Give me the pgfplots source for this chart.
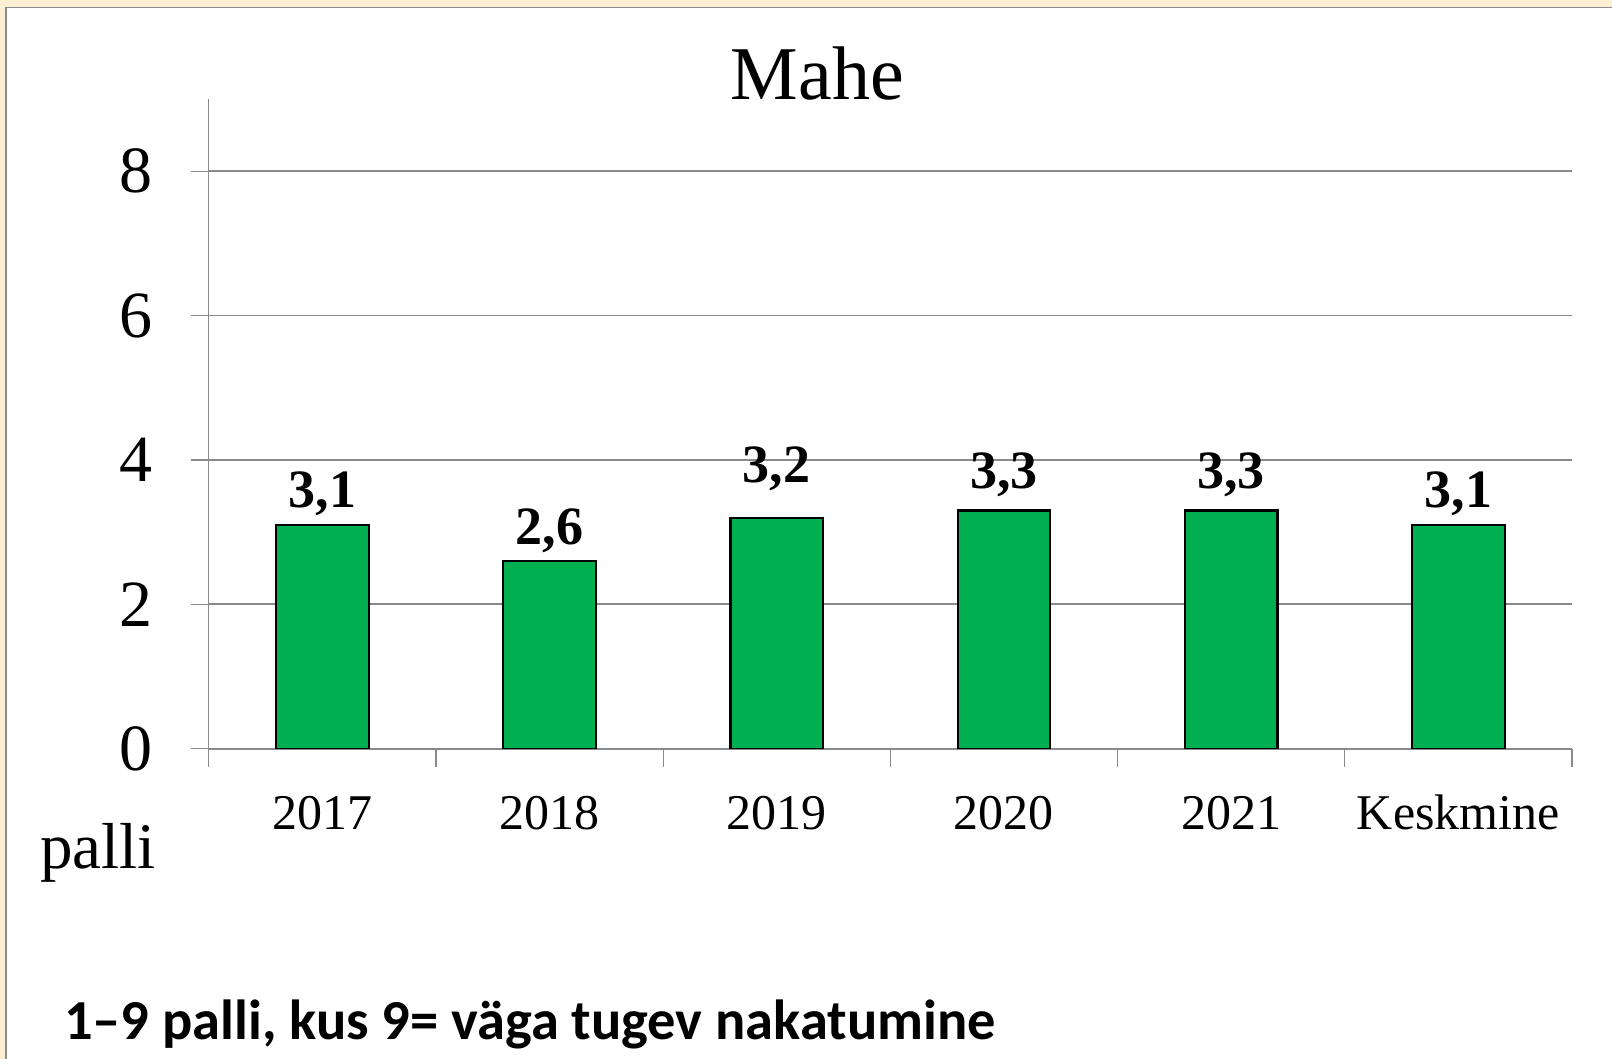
\documentclass[border=0pt]{standalone}
\usepackage{fontspec}
\setmainfont{Liberation Serif}
\newfontfamily\calib{Carlito}
\usepackage{pgfplots}
\pgfplotsset{compat=1.18}
\usepackage{pgfplotstable}
\definecolor{barg}{HTML}{00B050}
\definecolor{cream}{HTML}{FDF0D2}
\definecolor{gridg}{HTML}{8A8A8A}

\pgfplotstableread{
x y off
0 3.1 17
1 2.6 17
2 3.2 35
3 3.3 22
4 3.3 22
5 3.1 17
}\datatable

\begin{document}
\begin{tikzpicture}[x=1pt,y=1pt]
\useasboundingbox (0,0) rectangle (1612,1059);
\fill[cream] (0,0) rectangle (1612,1059);
\fill[white] (6,0) rectangle (1612,1051.5);
\draw[gridg, line width=1.2pt] (6,0) -- (6,1051.5) -- (1612,1051.5);
\begin{axis}[
  at={(208.7pt,310.3pt)}, anchor=south west,
  width=1363.3pt, height=649.7pt, scale only axis,
  xmin=-0.5, xmax=5.5, ymin=0, ymax=9,
  axis x line=bottom, axis y line=left,
  axis line style={-, gridg, line width=1.2pt},
  ytick={0,2,4,6,8},
  ymajorgrids, grid style={gridg, line width=1.8pt},
  xtick={-0.5,0.5,1.5,2.5,3.5,4.5,5.5}, xticklabels={},
  extra x ticks={0,1,2,3,4,5},
  extra x tick labels={2017,2018,2019,2020,2021,Keskmine},
  extra x tick style={major tick length=0pt, grid=none,
    xticklabel style={font=\fontsize{50}{50}\selectfont, anchor=base, inner sep=0pt, yshift=-81pt}},
  tick align=outside, major tick length=18pt,
  tick style={gridg, line width=1.2pt},
  yticklabel style={font=\fontsize{66}{66}\selectfont, anchor=east, inner sep=0pt, xshift=-38pt},
  /pgf/number format/assume math mode=true,
  ybar, bar width=92.6pt,
]
\addplot[ybar, fill=barg, draw=black, line width=2.2pt,
  nodes near coords={\pgfmathprintnumber[fixed,fixed zerofill,precision=1,use comma]{\pgfplotspointmeta}},
  nodes near coords style={font=\bfseries\fontsize{54}{54}\selectfont, anchor=base, inner sep=0pt, yshift=\myoff pt, text=black},
  visualization depends on={\thisrow{off} \as \myoff},
] table[x=x,y=y] {\datatable};
\end{axis}
\node[anchor=base, font=\fontsize{76}{76}\selectfont, inner sep=0pt] at (817.5,959) {Mahe};
\node[anchor=base west, font=\fontsize{65}{65}\selectfont, inner sep=0pt] at (40,190) {palli};
\node[anchor=base west, font=\calib\bfseries\fontsize{56.5}{56.5}\selectfont, inner sep=0pt] at (64,19) {1–9 palli, kus 9= väga tugev nakatumine};
\end{tikzpicture}
\end{document}
